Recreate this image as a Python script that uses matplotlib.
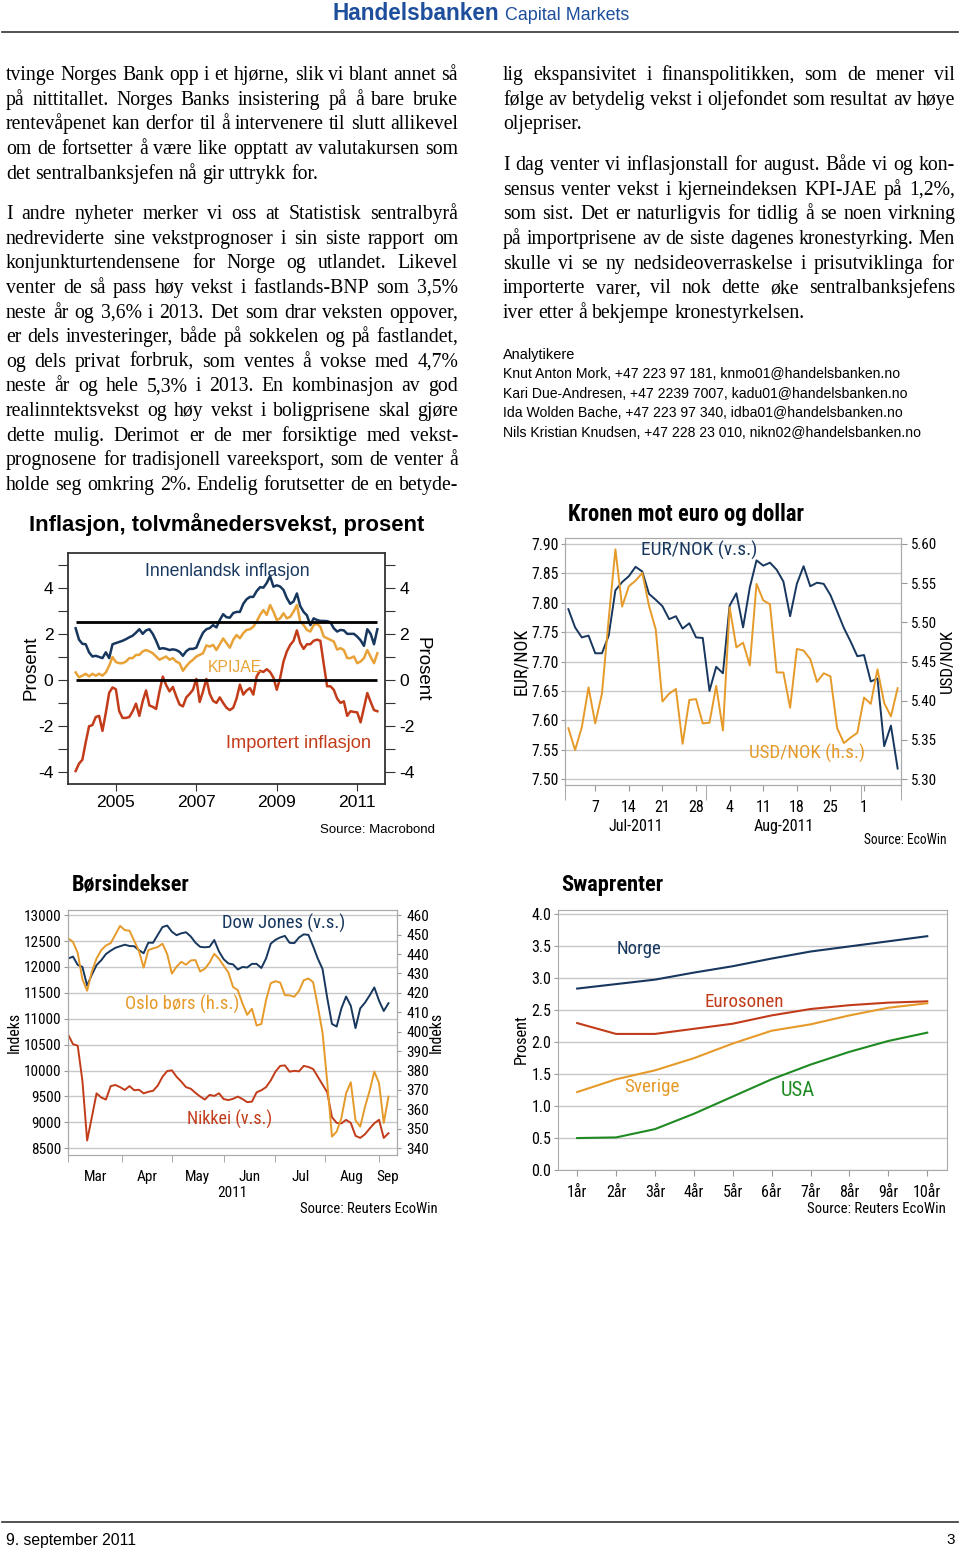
import numpy as np
import pandas as pd
import matplotlib
matplotlib.use("Agg")
import matplotlib.pyplot as plt
from matplotlib.lines import Line2D

# ---------------- data ----------------
# Inflasjon, tolvmånedersvekst (monthly, Jan 2004 - Jul 2011)
innenlandsk = [2.24, 1.75, 1.57, 1.55, 1.2, 1.02, 1.05, 1.0, 0.95, 1.2, 0.95, 1.55,
               1.6, 1.65, 1.7, 1.77, 1.85, 1.92, 2.05, 2.2, 2.0, 2.15, 2.2, 2.0,
               1.7, 1.35, 1.38, 1.35, 1.3, 1.33, 1.3, 1.22, 1.05, 1.25, 1.35, 1.35,
               1.4, 1.75, 2.05, 2.2, 2.25, 2.38, 2.28, 2.6, 2.85, 2.72, 2.7, 2.9,
               2.95, 2.95, 3.3, 3.5, 3.6, 3.6, 3.85, 4.02, 4.0, 4.2, 4.5, 4.04,
               4.1, 4.05, 3.9, 3.55, 3.3, 3.4, 3.75, 3.2, 2.95, 2.8, 2.38, 2.67,
               2.6, 2.56, 2.56, 2.55, 2.5, 2.24, 2.1, 2.17, 2.15, 2.0, 2.0, 2.0,
               1.88, 1.72, 1.48, 2.2, 2.0, 1.55, 2.2]
kpijae = [0.33, 0.12, 0.19, 0.27, 0.16, 0.27, 0.19, 0.27, 0.19, 0.33, 0.62, 1.0,
          0.78, 0.73, 0.73, 0.8, 0.95, 0.95, 1.09, 1.09, 1.24, 1.3, 1.24, 1.16,
          1.02, 0.88, 0.95, 1.02, 0.88, 0.95, 0.8, 0.73, 0.4, 0.6, 0.76, 0.88,
          1.02, 1.09, 1.16, 1.5, 1.45, 1.52, 1.3, 1.55, 1.8, 1.6, 1.4, 1.74,
          1.95, 1.81, 2.03, 2.17, 2.2, 2.31, 2.53, 2.82, 3.03, 2.82, 3.25, 2.96,
          2.6, 2.67, 2.89, 2.67, 2.74, 2.96, 3.25, 2.53, 2.38, 2.17, 2.1, 2.38,
          2.43, 2.31, 1.88, 1.81, 1.74, 1.67, 1.32, 1.38, 1.3, 0.95, 0.95, 1.02,
          0.73, 0.8, 0.95, 1.3, 1.0, 0.73, 1.16]
importert = [-3.94, -3.62, -3.45, -2.7, -2.0, -1.95, -1.6, -1.55, -2.2, -1.42, -0.55, -0.32,
             -0.4, -1.35, -1.64, -1.64, -1.6, -1.35, -1.02, -1.55, -0.92, -0.45, -1.1, -1.16,
             -1.25, -0.5, 0.15, -0.22, -0.49, -0.3, -0.7, -1.06, -1.14, -0.75, -0.6, -0.42,
             0.05, -0.95, -0.49, 0.05, -0.6, -0.9, -0.99, -0.75, -0.99, -1.2, -1.3, -1.2,
             -0.8, -0.2, -0.63, -0.45, -0.35, -0.63, 0.16, 0.4, 0.35, 0.47, 0.35, 0.1,
             -0.42, 0.09, 0.8, 1.24, 1.52, 1.7, 2.15, 1.6, 1.35, 1.55, 1.55, 1.7,
             1.75, 1.7, 0.7, -0.27, -0.27, -0.42, -0.8, -0.99, -0.92, -1.55, -1.35, -1.38,
             -1.4, -1.83, -1.2, -0.56, -0.95, -1.3, -1.35]
inf_years = [2005, 2007, 2009, 2011]

# Kronen mot euro og dollar (business days 1 Jul - 8 Sep 2011)
fx_days = pd.bdate_range("2011-07-01", "2011-09-08")
eur_nok = [7.789, 7.758, 7.741, 7.744, 7.714, 7.714, 7.744, 7.821, 7.835, 7.845,
           7.861, 7.853, 7.815, 7.805, 7.794, 7.772, 7.777, 7.756, 7.765, 7.741,
           7.740, 7.650, 7.691, 7.680, 7.795, 7.816, 7.758, 7.826, 7.872, 7.863,
           7.868, 7.856, 7.836, 7.777, 7.832, 7.862, 7.828, 7.834, 7.832, 7.813,
           7.785, 7.757, 7.734, 7.709, 7.711, 7.666, 7.671, 7.556, 7.591, 7.518]
usd_nok = [5.365, 5.337, 5.366, 5.417, 5.371, 5.409, 5.504, 5.593, 5.520, 5.546,
           5.553, 5.563, 5.521, 5.491, 5.399, 5.409, 5.415, 5.345, 5.401, 5.402,
           5.371, 5.372, 5.419, 5.362, 5.519, 5.468, 5.474, 5.445, 5.549, 5.528,
           5.523, 5.436, 5.436, 5.391, 5.466, 5.464, 5.453, 5.424, 5.435, 5.431,
           5.365, 5.346, 5.353, 5.359, 5.404, 5.396, 5.440, 5.397, 5.380, 5.416]

# Børsindekser (every second business day, 1 Mar - 8 Sep 2011)
stock_days = pd.bdate_range("2011-03-01", "2011-09-08")
dow_jones = [12164, 12200, 12040, 12000, 11640, 11850, 12036, 12130, 12250, 12315,
             12370, 12400, 12430, 12405, 12400, 12325, 12265, 12470, 12467, 12620,
             12770, 12800, 12680, 12614, 12650, 12670, 12590, 12470, 12389, 12380,
             12389, 12520, 12300, 12150, 12068, 12050, 11952, 12000, 11990, 12060,
             12060, 11980, 12164, 12450, 12525, 12570, 12600, 12467, 12460, 12570,
             12630, 12620, 12400, 12160, 11960, 11400, 10900, 10850, 11200, 11430,
             11250, 10820, 11200, 11310, 11450, 11605, 11350, 11150, 11300]
oslo_bors = [448.0, 446.2, 440.5, 427.0, 421.1, 431.0, 437.7, 442.0, 444.4, 445.6,
             450.0, 454.5, 452.3, 452.0, 446.8, 441.6, 433.0, 442.0, 442.9, 443.6,
             445.3, 440.0, 429.9, 433.5, 436.0, 434.5, 436.7, 436.9, 431.0, 432.4,
             435.6, 440.1, 437.5, 434.0, 430.5, 423.0, 421.4, 414.5, 408.7, 411.8,
             403.2, 404.0, 416.3, 425.0, 426.0, 425.3, 418.8, 418.7, 418.0, 421.0,
             426.5, 427.4, 425.5, 413.0, 399.5, 374.0, 346.0, 348.6, 355.5, 368.3,
             374.0, 354.4, 351.1, 361.2, 369.6, 379.5, 373.5, 353.0, 366.6]
nikkei = [10686, 10510, 10480, 9800, 8650, 9100, 9560, 9480, 9440, 9700,
          9722, 9680, 9626, 9700, 9620, 9630, 9560, 9590, 9610, 9710,
          9880, 9990, 10005, 9880, 9787, 9680, 9650, 9570, 9500, 9440,
          9530, 9510, 9562, 9450, 9430, 9455, 9498, 9450, 9390, 9400,
          9580, 9620, 9680, 9810, 9980, 10090, 10100, 9979, 9995, 9985,
          10090, 10070, 10030, 9880, 9730, 9580, 9100, 8990, 8980, 9048,
          8990, 8740, 8700, 8770, 8880, 8983, 9050, 8700, 8790]
stock_months = ["Mar", "Apr", "May", "Jun", "Jul", "Aug", "Sep"]

# Swaprenter
tenors = ["1år", "2år", "3år", "4år", "5år", "6år", "7år", "8år", "9år", "10år"]
swap_norge = [2.84, 2.91, 2.98, 3.09, 3.19, 3.31, 3.42, 3.50, 3.58, 3.66]
swap_euro = [2.30, 2.13, 2.13, 2.21, 2.29, 2.42, 2.52, 2.58, 2.62, 2.64]
swap_sverige = [1.22, 1.42, 1.56, 1.75, 1.98, 2.18, 2.28, 2.42, 2.54, 2.61]
swap_usa = [0.50, 0.51, 0.64, 0.88, 1.15, 1.42, 1.65, 1.85, 2.02, 2.15]

left_text = [
    ["tvinge Norges Bank opp i et hjørne, slik vi blant annet så",
     "på nittitallet. Norges Banks insistering på å bare bruke",
     "rentevåpenet kan derfor til å intervenere til slutt allikevel",
     "om de fortsetter å være like opptatt av valutakursen som",
     "det sentralbanksjefen nå gir uttrykk for."],
    ["I andre nyheter merker vi oss at Statistisk sentralbyrå",
     "nedreviderte sine vekstprognoser i sin siste rapport om",
     "konjunkturtendensene for Norge og utlandet. Likevel",
     "venter de så pass høy vekst i fastlands-BNP som 3,5%",
     "neste år og 3,6% i 2013. Det som drar veksten oppover,",
     "er dels investeringer, både på sokkelen og på fastlandet,",
     "og dels privat forbruk, som ventes å vokse med 4,7%",
     "neste år og hele 5,3% i 2013. En kombinasjon av god",
     "realinntektsvekst og høy vekst i boligprisene skal gjøre",
     "dette mulig. Derimot er de mer forsiktige med vekst-",
     "prognosene for tradisjonell vareeksport, som de venter å",
     "holde seg omkring 2%. Endelig forutsetter de en betyde-"],
]
right_text = [
    ["lig ekspansivitet i finanspolitikken, som de mener vil",
     "følge av betydelig vekst i oljefondet som resultat av høye",
     "oljepriser."],
    ["I dag venter vi inflasjonstall for august. Både vi og kon-",
     "sensus venter vekst i kjerneindeksen KPI-JAE på 1,2%,",
     "som sist. Det er naturligvis for tidlig å se noen virkning",
     "på importprisene av de siste dagenes kronestyrking. Men",
     "skulle vi se ny nedsideoverraskelse i prisutviklinga for",
     "importerte varer, vil nok dette øke sentralbanksjefens",
     "iver etter å bekjempe kronestyrkelsen."],
]
analysts = ["Knut Anton Mork, +47 223 97 181, knmo01@handelsbanken.no",
            "Kari Due-Andresen, +47 2239 7007, kadu01@handelsbanken.no",
            "Ida Wolden Bache, +47 223 97 340, idba01@handelsbanken.no",
            "Nils Kristian Knudsen, +47 228 23 010, nikn02@handelsbanken.no"]

# ---------------- style ----------------
NAVY = "#17375e"
ORANGE = "#e59a2a"
RED = "#c23c1a"
GREEN = "#1f8a22"
HB_BLUE = "#1d4f9c"
SERIF = "Liberation Serif"
SANS = "Liberation Sans"
NARROW = ["Roboto Condensed", "Archivo Narrow", "PT Sans Narrow", "Liberation Sans"]
GRID = "#c8c8c8"
TICKC = "#999999"
plt.rcParams["font.family"] = SANS

W, H = 960, 1550
fig = plt.figure(figsize=(W / 100, H / 100), dpi=100)
R = fig.canvas.get_renderer()


def box(x0, y0, x1, y1):
    return fig.add_axes([x0 / W, 1 - y1 / H, (x1 - x0) / W, (y1 - y0) / H])


def txt(x, y, s, length=None, **kw):
    kw.setdefault("va", "center")
    t = fig.text(x / W, 1 - y / H, s, **kw)
    if length:
        bb = t.get_window_extent(R)
        now = bb.width if t.get_rotation() == 0 else bb.height
        t.set_fontsize(t.get_fontsize() * length / now)
    return t


def justify(paragraphs, x0, x1, starts, step=24.64, size=14.2):
    space = size * 100 / 72 * 0.25
    for lines, y0 in zip(paragraphs, starts):
        for k, line in enumerate(lines):
            y = y0 + k * step
            words = line.split()
            objs = [fig.text(0, 1 - y / H, w, family=SERIF, fontsize=size,
                             va="baseline") for w in words]
            ws = [o.get_window_extent(R).width for o in objs]
            gap = space
            if not line.endswith(".") and len(words) > 1:
                gap = (x1 - x0 - sum(ws)) / (len(words) - 1)
            x = x0
            for o, w in zip(objs, ws):
                o.set_x(x / W)
                x += w + gap


def gray_frame(*axes):
    for a in axes:
        for s in a.spines.values():
            s.set_color("#aaaaaa")


# ---------------- page ----------------
txt(333, 13, "Handelsbanken", length=167, fontsize=16, weight="bold", color=HB_BLUE)
txt(505, 15, "Capital Markets", length=125, fontsize=12, color=HB_BLUE)
fig.add_artist(Line2D([2 / W, 958 / W], [1 - 32 / H] * 2, color="#333333", lw=1.2))
fig.add_artist(Line2D([2 / W, 958 / W], [1 - 1522 / H] * 2, color="#333333", lw=1.2))
txt(6, 1540, "9. september 2011", length=130, fontsize=11)
txt(955, 1540, "3", fontsize=11, ha="right")

justify(left_text, 6, 458, [80, 219])
justify(right_text, 503, 955, [80, 170])

txt(503, 355, "Analytikere", length=72, fontsize=10)
for k, line in enumerate(analysts):
    txt(503, 374 + 19.6 * k, line, fontsize=10.1)

# ---------------- chart 1: inflasjon ----------------
txt(29, 525, "Inflasjon, tolvmånedersvekst, prosent", length=395, fontsize=17, weight="bold")
ax1 = box(68, 553, 385, 784)
t_inf = 2004 + np.arange(len(innenlandsk)) / 12
ax1.plot(t_inf, importert, color=RED, lw=1.8)
ax1.plot(t_inf, kpijae, color="#e8a238", lw=1.8)
ax1.plot(t_inf, innenlandsk, color=NAVY, lw=1.8)
ax1.hlines([2.5, 0], t_inf[0], t_inf[-1], color="black", lw=2)
ax1.set_xlim(2003.81, 2011.69)
ax1.set_ylim(-4.5, 5.5)
yt = np.arange(-4, 6)
ax1.set_yticks(yt)
ax1.set_yticklabels([str(v) if v % 2 == 0 else "" for v in yt])
ax1.set_xticks(inf_years)
ax1.set_xticklabels([str(v) for v in inf_years])
ax1.tick_params(axis="y", left=True, right=True, labelleft=True, labelright=True,
                length=7, pad=3.5, labelsize=12.6, color="#333333")
ax1.tick_params(axis="x", length=5, pad=3, labelsize=12.6, color="#333333")
for s in ax1.spines.values():
    s.set_color("#333333")
    s.set_linewidth(1.3)
txt(145, 572, "Innenlandsk inflasjon", length=165, fontsize=13, color=NAVY)
txt(208, 668, "KPIJAE", length=54, fontsize=13, color="#e8a238")
txt(226, 743, "Importert inflasjon", length=145, fontsize=13, color=RED)
txt(31, 668, "Prosent", length=65, fontsize=14, rotation=90, ha="center")
txt(422, 669, "Prosent", length=65, fontsize=14, rotation=270, ha="center")
txt(435, 830, "Source: Macrobond", length=116, fontsize=10, ha="right")

# ---------------- chart 2: kronen ----------------
txt(568, 514, "Kronen mot euro og dollar", length=235, fontsize=16, weight="bold", family=NARROW)
ax2 = box(565, 538, 901, 785)
x_fx = np.arange(len(fx_days))
ax2.set_axisbelow(True)
ax2.grid(axis="y", color=GRID, lw=1)
ax2.plot(x_fx, eur_nok, color=NAVY, lw=1.4)
ax2b = ax2.twinx()
ax2b.plot(x_fx, usd_nok, color=ORANGE, lw=1.4)
ax2.set_xlim(-0.5, len(fx_days) - 0.5)
ax2.set_ylim(7.49, 7.91)
ax2b.set_ylim(5.2925, 5.6075)
lv = np.arange(7.50, 7.901, 0.05)
rv = np.arange(5.30, 5.601, 0.05)
ax2.set_yticks(lv)
ax2.set_yticklabels([f"{v:.2f}" for v in lv])
ax2b.set_yticks(rv)
ax2b.set_yticklabels([f"{v:.2f}" for v in rv])
thu = [i for i in np.where(fx_days.dayofweek == 3)[0] if i < len(fx_days) - 1]
ax2.set_xticks(thu)
ax2.set_xticklabels([str(fx_days[i].day) for i in thu])
bounds = np.concatenate([[-0.5], np.where(np.diff(fx_days.month) != 0)[0] + 0.5,
                         [len(fx_days) - 0.5]])
ax2.set_xticks(bounds, minor=True)
ax2.tick_params(axis="x", which="major", length=4, pad=7, labelsize=11.5,
                labelfontfamily=NARROW, color=TICKC)
ax2.tick_params(axis="x", which="minor", length=11, color=TICKC)
ax2.tick_params(axis="y", length=3, pad=1.5, labelsize=11.3, labelfontfamily=NARROW,
                color=TICKC)
ax2b.tick_params(axis="y", length=4, pad=3, labelsize=10.8, labelfontfamily=NARROW,
                 color=TICKC)
gray_frame(ax2, ax2b)
for k, name in enumerate(["Jul-2011", "Aug-2011"]):
    ax2.text((bounds[k] + bounds[k + 1]) / 2, -0.166, name, transform=ax2.get_xaxis_transform(),
             ha="center", va="center", fontsize=11.5, family=NARROW)
txt(641, 550, "EUR/NOK (v.s.)", length=117, fontsize=14, color=NAVY, family=NARROW)
txt(749, 753, "USD/NOK (h.s.)", length=117, fontsize=14, color=ORANGE, family=NARROW)
txt(521, 661, "EUR/NOK", length=67, fontsize=12, rotation=90, ha="center", family=NARROW)
txt(947, 661, "USD/NOK", length=64, fontsize=12, rotation=90, ha="center", family=NARROW)
txt(947, 840, "Source: EcoWin", length=83, fontsize=10, ha="right", family=NARROW)

# ---------------- chart 3: børsindekser ----------------
txt(72, 885, "Børsindekser", length=118, fontsize=16, weight="bold", family=NARROW)
ax3 = box(68.3, 910, 396.7, 1155)
x_st = np.arange(len(stock_days))[::2]
ax3.set_axisbelow(True)
ax3.grid(axis="y", color=GRID, lw=1)
ax3.plot(x_st, dow_jones, color=NAVY, lw=1.4)
ax3.plot(x_st, nikkei, color=RED, lw=1.4)
ax3b = ax3.twinx()
ax3b.plot(x_st, oslo_bors, color=ORANGE, lw=1.4)
ax3.set_xlim(0, len(stock_days) + 1.5)
ax3.set_ylim(8370, 13100)
ax3b.set_ylim(340 + (8370 - 8500) * 120 / 4500, 340 + (13100 - 8500) * 120 / 4500)
ax3.set_yticks(np.arange(8500, 13001, 500))
ax3b.set_yticks(np.arange(340, 461, 10))
m_edges = np.concatenate([[0], np.where(np.diff(stock_days.month) != 0)[0] + 1,
                          [len(stock_days) + 1.5]])
ax3.set_xticks(m_edges[:-1], minor=True)
ax3.set_xticks((m_edges[:-1] + m_edges[1:]) / 2)
ax3.set_xticklabels(stock_months)
ax3.tick_params(axis="x", which="major", length=0, pad=11, labelsize=11,
                labelfontfamily=NARROW)
ax3.tick_params(axis="x", which="minor", length=5, color=TICKC)
ax3.tick_params(axis="y", length=3, pad=2, labelsize=11, labelfontfamily=NARROW,
                color=TICKC)
ax3b.tick_params(axis="y", length=3, pad=4, labelsize=11, labelfontfamily=NARROW,
                 color=TICKC)
gray_frame(ax3, ax3b)
ax3.text(0.5, -0.155, "2011", transform=ax3.transAxes, ha="center", va="center",
         fontsize=11, family=NARROW)
txt(222, 923, "Dow Jones (v.s.)", length=124, fontsize=14, color=NAVY, family=NARROW)
txt(125, 1004, "Oslo børs (h.s.)", length=115, fontsize=14, color=ORANGE, family=NARROW)
txt(187, 1119, "Nikkei (v.s.)", length=86, fontsize=14, color=RED, family=NARROW)
txt(14, 1032, "Indeks", length=41, fontsize=10, rotation=90, ha="center", family=NARROW)
txt(436, 1032, "Indeks", length=41, fontsize=10, rotation=90, ha="center", family=NARROW)
txt(438, 1209, "Source: Reuters EcoWin", length=136, fontsize=10, ha="right", family=NARROW)

# ---------------- chart 4: swaprenter ----------------
txt(561, 885, "Swaprenter", length=102, fontsize=16, weight="bold", family=NARROW)
ax4 = box(557.7, 910, 946.7, 1170)
x_sw = np.arange(1, len(tenors) + 1)
ax4.set_axisbelow(True)
ax4.grid(axis="y", color=GRID, lw=1)
ax4.plot(x_sw, swap_norge, color=NAVY, lw=1.5)
ax4.plot(x_sw, swap_euro, color=RED, lw=1.5)
ax4.plot(x_sw, swap_sverige, color=ORANGE, lw=1.5)
ax4.plot(x_sw, swap_usa, color=GREEN, lw=1.5)
ax4.set_xlim(0.5, len(tenors) + 0.5)
ax4.set_ylim(0, 4.07)
sv = np.arange(0, 4.01, 0.5)
ax4.set_yticks(sv)
ax4.set_yticklabels([f"{v:.1f}" for v in sv])
ax4.set_xticks(x_sw)
ax4.set_xticklabels(tenors)
ax4.tick_params(axis="x", length=4, pad=7, labelsize=11.5, labelfontfamily=NARROW,
                color=TICKC)
ax4.tick_params(axis="y", length=3, pad=1.5, labelsize=11.5, labelfontfamily=NARROW,
                color=TICKC)
gray_frame(ax4)
txt(617, 949, "Norge", length=45, fontsize=14, color=NAVY, family=NARROW)
txt(704, 1002, "Eurosonen", length=80, fontsize=14, color=RED, family=NARROW)
txt(624, 1087, "Sverige", length=56, fontsize=14, color=ORANGE, family=NARROW)
txt(781, 1090, "USA", length=34, fontsize=14, color=GREEN, family=NARROW)
txt(521, 1039, "Prosent", length=50, fontsize=11, rotation=90, ha="center", family=NARROW)
txt(946, 1209, "Source: Reuters EcoWin", length=137, fontsize=10, ha="right", family=NARROW)

fig.savefig("out.png", dpi=100)
